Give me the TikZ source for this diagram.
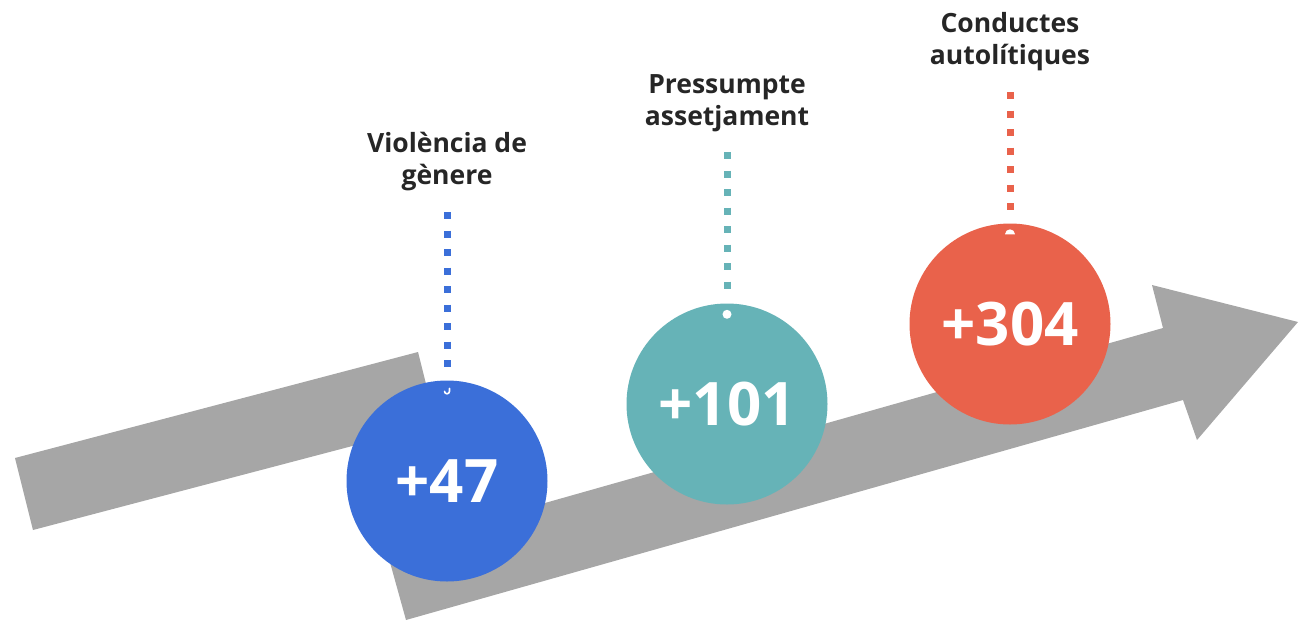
\documentclass[tikz,border=0pt]{standalone}
\usepackage{fontspec}
\setmainfont{Open Sans}
\usepackage{tikz}
\usetikzlibrary{positioning}

\definecolor{vioblue}{HTML}{3B6FD9}
\definecolor{asteal}{HTML}{66B3B7}
\definecolor{autored}{HTML}{E9624B}
\definecolor{arrowgray}{HTML}{A6A6A6}
\definecolor{labelgray}{HTML}{262626}

\begin{document}
\begin{tikzpicture}[x=1pt,y=-1pt]
	\tikzstyle{bubble}=[circle,minimum size=201pt,inner sep=0pt,text=white,font=\bfseries\fontsize{60}{60}\selectfont]
	\tikzstyle{caption}=[align=center,inner sep=0pt,anchor=north,text=labelgray,font=\bfseries\fontsize{26.5}{32}\selectfont]
	\tikzstyle{hangline}=[line width=7pt,dash pattern=on 7pt off 11.5pt]
	\useasboundingbox (0,0) rectangle (1299,622);
	% arrow
	\fill[arrowgray] (15,458) -- (418,352) -- (436,424) -- (33,530) -- cycle;
	\fill[arrowgray] (386,548) -- (1163,328) -- (1152,285) -- (1298,322)
		-- (1197,440) -- (1183,400) -- (406,620) -- cycle;
	\node[bubble,fill=vioblue] (vio) at (447,481) {+47};
	\node[bubble,fill=asteal] (ass) at (727,404) {+101};
	\node[bubble,fill=autored] (aut) at (1010,324) {+304};
	\node[caption] (violab) at (447,132) {Violència de\\gènere};
	\node[caption] (asslab) at (727,74) {Pressumpte\\assetjament};
	\node[caption] (autlab) at (1010,12) {Conductes\\autolítiques};
	\coordinate (viotop) at (447,212);
	\coordinate (asstop) at (727,152);
	\coordinate (auttop) at (1010,92);
	\draw[hangline,vioblue] (viotop) -- ([yshift=8pt]vio.north);
	\draw[hangline,asteal] (asstop) -- ([yshift=11pt]ass.north);
	\draw[hangline,autored] (auttop) -- ([yshift=11pt]aut.north);
	%\draw[white] (vio.north) -- (vio.center);
	\draw[white,line width=1.6pt,line cap=round] ([xshift=2.5pt,yshift=-8pt]vio.north)
		-- ([xshift=2.5pt,yshift=-11pt]vio.north) arc (0:-180:2.5pt);
	\fill[white] ([yshift=-11pt]ass.north) circle (4.5);
	\fill[white] ([xshift=-5pt,yshift=-11pt]aut.north) arc (180:360:5) -- cycle;
\end{tikzpicture}
\end{document}
